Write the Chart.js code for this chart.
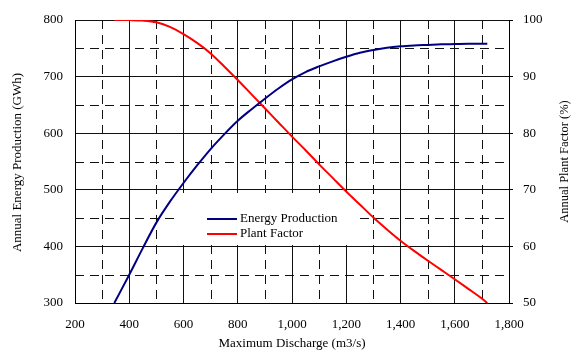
<!DOCTYPE html>
<html>
<head>
<meta charset="utf-8">
<script src="https://cdn.jsdelivr.net/npm/chart.js@4"></script>
<style>
  html, body { margin: 0; padding: 0; background: #fff; }
  canvas { display: block; }
</style>
</head>
<body>
<canvas id="chart" width="571" height="350"></canvas>
<script>
// discharge (m3/s) sampled along both curves
const discharge = [345, 400, 450, 500, 550, 600, 650, 700, 750, 800, 850, 900, 950, 1000,
  1050, 1100, 1150, 1200, 1250, 1300, 1350, 1400, 1450, 1500, 1550, 1600, 1650, 1700, 1720];
// annual energy production (GWh)
const energy = [300, 350, 397, 442, 479, 512, 543, 572, 598, 622, 642, 661, 679, 695,
  708, 718, 727, 735, 742, 747, 751, 753.5, 755, 756, 757, 757.5, 758, 758, 758];
// annual plant factor (%)
const plantFactor = [100, 99.98, 99.9, 99.6, 98.8, 97.5, 95.95, 94.1, 91.8, 89.4, 86.9, 84.4, 81.9, 79.4,
  77.0, 74.5, 72.1, 69.7, 67.4, 65.1, 63.0, 61.0, 59.2, 57.5, 55.85, 54.2, 52.5, 50.8, 50];

// dashed (minor) grid positions
const dashedX = [300, 500, 700, 900, 1100, 1300, 1500, 1700];
const dashedY = [350, 450, 550, 650, 750];

const FONT = '"Liberation Serif", "Times New Roman", serif';

// dashed minor grid + white legend box, drawn under the curves
const gridAndLegend = {
  id: 'gridAndLegend',
  beforeDatasetsDraw(chart) {
    const ctx = chart.ctx;
    const area = chart.chartArea;
    const xs = chart.scales.x;
    const ys = chart.scales.y;
    ctx.save();
    ctx.strokeStyle = '#111';
    ctx.lineWidth = 1;
    ctx.setLineDash([9, 6]);
    dashedX.forEach(v => {
      const px = Math.round(xs.getPixelForValue(v)) + 0.5;
      ctx.beginPath();
      ctx.moveTo(px, area.top);
      ctx.lineTo(px, area.bottom);
      ctx.stroke();
    });
    dashedY.forEach(v => {
      const py = Math.round(ys.getPixelForValue(v)) + 0.5;
      ctx.beginPath();
      ctx.moveTo(area.left, py);
      ctx.lineTo(area.right, py);
      ctx.stroke();
    });
    ctx.setLineDash([]);

    // legend box
    ctx.fillStyle = '#fff';
    ctx.fillRect(178, 193, 176, 52);
    const items = [
      { label: 'Energy Production', color: '#000080', y: 219 },
      { label: 'Plant Factor', color: '#ff0000', y: 234 }
    ];
    ctx.font = '13px ' + FONT;
    ctx.textBaseline = 'middle';
    ctx.textAlign = 'left';
    items.forEach(it => {
      ctx.strokeStyle = it.color;
      ctx.lineWidth = 2;
      ctx.beginPath();
      ctx.moveTo(207, it.y);
      ctx.lineTo(237, it.y);
      ctx.stroke();
      ctx.fillStyle = '#000';
      ctx.fillText(it.label, 240, it.y);
    });
    ctx.restore();
  }
};

// axis titles
const axisTitles = {
  id: 'axisTitles',
  afterDraw(chart) {
    const ctx = chart.ctx;
    const area = chart.chartArea;
    const midY = (area.top + area.bottom) / 2;
    ctx.save();
    ctx.fillStyle = '#000';
    ctx.font = '13px ' + FONT;
    ctx.textAlign = 'center';
    ctx.textBaseline = 'middle';
    ctx.fillText('Maximum Discharge (m3/s)', (area.left + area.right) / 2, 344);

    ctx.translate(18, midY + 1);
    ctx.rotate(-Math.PI / 2);
    ctx.fillText('Annual Energy Production (GWh)', 0, 0);
    ctx.restore();

    ctx.save();
    ctx.fillStyle = '#000';
    ctx.font = '12.5px ' + FONT;
    ctx.textAlign = 'center';
    ctx.textBaseline = 'middle';
    ctx.translate(565, midY);
    ctx.rotate(-Math.PI / 2);
    ctx.fillText('Annual Plant Factor (%)', 0, 0);
    ctx.restore();
  }
};

const ctx = document.getElementById('chart').getContext('2d');
new Chart(ctx, {
  type: 'line',
  data: {
    datasets: [
      {
        label: 'Energy Production',
        data: discharge.map((x, i) => ({ x: x, y: energy[i] })),
        borderColor: '#000080',
        borderWidth: 2,
        pointRadius: 0,
        cubicInterpolationMode: 'monotone',
        yAxisID: 'y'
      },
      {
        label: 'Plant Factor',
        data: discharge.map((x, i) => ({ x: x, y: plantFactor[i] })),
        borderColor: '#ff0000',
        borderWidth: 2,
        pointRadius: 0,
        cubicInterpolationMode: 'monotone',
        yAxisID: 'y2'
      }
    ]
  },
  options: {
    responsive: false,
    animation: false,
    layout: { padding: { top: 20, left: 0, right: 0, bottom: 0 } },
    plugins: {
      legend: { display: false },
      tooltip: { enabled: false }
    },
    scales: {
      x: {
        type: 'linear',
        min: 200,
        max: 1800,
        afterFit: s => { s.height = 47; },
        ticks: {
          stepSize: 200,
          padding: 14,
          color: '#000',
          font: { family: FONT, size: 13 },
          callback: v => v.toLocaleString('en-US')
        },
        grid: { color: '#111', lineWidth: 1, drawTicks: false },
        border: { color: '#000', width: 1 }
      },
      y: {
        position: 'left',
        min: 300,
        max: 800,
        afterFit: s => { s.width = 75; },
        ticks: {
          stepSize: 100,
          padding: 12,
          color: '#000',
          font: { family: FONT, size: 13 }
        },
        grid: { color: '#111', lineWidth: 1, drawTicks: false },
        border: { color: '#000', width: 1 }
      },
      y2: {
        position: 'right',
        min: 50,
        max: 100,
        afterFit: s => { s.width = 62; },
        ticks: {
          stepSize: 10,
          padding: 10,
          color: '#000',
          font: { family: FONT, size: 13 }
        },
        grid: { drawOnChartArea: false, color: '#000', tickLength: 4 },
        border: { color: '#000', width: 1 }
      }
    }
  },
  plugins: [gridAndLegend, axisTitles]
});
</script>
</body>
</html>
